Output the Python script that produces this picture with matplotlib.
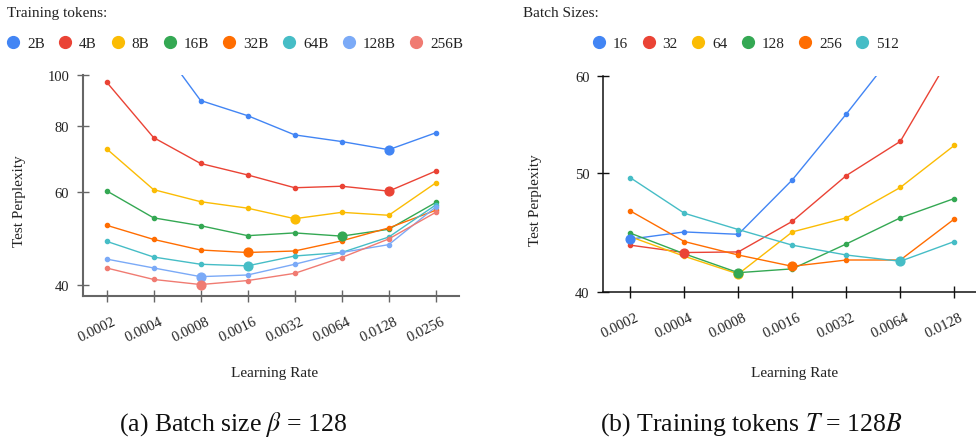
import numpy as np
import matplotlib
matplotlib.use("Agg")
import matplotlib.pyplot as plt
from matplotlib.lines import Line2D
from matplotlib.ticker import NullLocator
from matplotlib.transforms import ScaledTranslation

plt.rcParams['font.family'] = ['Liberation Serif', 'DejaVu Serif']
plt.rcParams['mathtext.fontset'] = 'stix'

# ---------------- data ----------------
lr_left = [0.0002, 0.0004, 0.0008, 0.0016, 0.0032, 0.0064, 0.0128, 0.0256]
lr_left_labels = ["0.0002", "0.0004", "0.0008", "0.0016", "0.0032", "0.0064", "0.0128", "0.0256"]
token_labels = ["2B", "4B", "8B", "16B", "32B", "64B", "128B", "256B"]
ppl_2B = [150.0, 118.0, 89.3, 83.6, 76.9, 74.7, 72.1, 77.6]
ppl_4B = [96.8, 76.0, 67.9, 64.6, 61.1, 61.5, 60.2, 65.7]
ppl_8B = [72.4, 60.6, 57.5, 55.9, 53.4, 54.9, 54.2, 62.4]
ppl_16B = [60.3, 53.6, 51.8, 49.6, 50.2, 49.5, 51.0, 57.3]
ppl_32B = [51.9, 48.8, 46.6, 46.1, 46.4, 48.5, 51.3, 55.4]
ppl_64B = [48.4, 45.2, 43.8, 43.5, 45.4, 46.1, 49.3, 56.7]
ppl_128B = [44.8, 43.1, 41.5, 41.8, 43.8, 46.1, 47.7, 56.2]
ppl_256B = [43.1, 41.0, 40.1, 40.8, 42.1, 45.1, 48.9, 54.9]

lr_right = [0.0002, 0.0004, 0.0008, 0.0016, 0.0032, 0.0064, 0.0128]
lr_right_labels = ["0.0002", "0.0004", "0.0008", "0.0016", "0.0032", "0.0064", "0.0128"]
batch_labels = ["16", "32", "64", "128", "256", "512"]
ppl_bs16 = [44.2, 44.8, 44.6, 49.4, 55.9, 63.6, 75.0]
ppl_bs32 = [43.7, 43.1, 43.15, 45.7, 49.8, 53.1, 63.1]
ppl_bs64 = [44.4, 42.8, 41.4, 44.8, 46.0, 48.7, 52.7]
ppl_bs128 = [44.7, 43.0, 41.5, 41.8, 43.8, 46.0, 47.7]
ppl_bs256 = [46.6, 44.0, 42.9, 42.0, 42.5, 42.5, 45.9]
ppl_bs512 = [49.6, 46.4, 45.0, 43.7, 42.9, 42.4, 44.0]

colors = ["#4285F4", "#EA4335", "#FBBC04", "#34A853", "#FF6D01", "#46BDC6", "#7BAAF7", "#F07B72"]

left_series = [ppl_2B, ppl_4B, ppl_8B, ppl_16B, ppl_32B, ppl_64B, ppl_128B, ppl_256B]
right_series = [ppl_bs16, ppl_bs32, ppl_bs64, ppl_bs128, ppl_bs256, ppl_bs512]

W, H = 976, 439
fig = plt.figure(figsize=(W / 100, H / 100), dpi=100)

def px_axes(x0, x1, ytop, ybot):
    return fig.add_axes([x0 / W, 1 - ybot / H, (x1 - x0) / W, (ybot - ytop) / H])

axL = px_axes(83, 459.3, 75.5, 297.3)
axR = px_axes(603.3, 981.3, 77.3, 293.3)

FS_TICK = 10.5
FS = 11.0

def style(ax, lrs, labels, yticks, spine_color, spine_lw, label_pad, xoff):
    ax.set_xscale('log', base=2)
    ax.set_yscale('log')
    ax.set_xlim(lrs[0] / np.sqrt(2), lrs[-1] * np.sqrt(2))
    ax.set_xticks(lrs, labels=labels)
    ax.set_yticks(yticks, labels=[str(v) for v in yticks])
    ax.xaxis.set_minor_locator(NullLocator())
    ax.yaxis.set_minor_locator(NullLocator())
    for s in ['top', 'right']:
        ax.spines[s].set_visible(False)
    for s in ['left', 'bottom']:
        ax.spines[s].set_color(spine_color)
        ax.spines[s].set_linewidth(spine_lw)
    ax.tick_params(axis='both', direction='inout', length=8, width=1.0,
                   color=spine_color, labelsize=FS_TICK, labelcolor='#222222')
    ax.tick_params(axis='y', pad=6)
    ax.tick_params(axis='x', pad=label_pad)
    ax.patch.set_alpha(0)
    for lab in ax.get_xticklabels():
        lab.set_rotation(26)
        lab.set_ha('center')
        lab.set_va('top')
        lab.set_transform(lab.get_transform() + ScaledTranslation(xoff / 100, 0, fig.dpi_scale_trans))

def draw(ax, lrs, series):
    for vals, c in zip(series, colors):
        ax.plot(lrs, vals, color=c, lw=1.0, marker='o', markersize=3.0, zorder=3)
        i = int(np.argmin(vals))
        ax.plot([lrs[i]], [vals[i]], linestyle='none', marker='o', markersize=6.3,
                color=c, zorder=4)

draw(axL, lr_left, left_series)
axL.set_ylim(38.1, 100)
style(axL, lr_left, lr_left_labels, [40, 60, 80, 100], '#666666', 1.5, 9.4, -10)

draw(axR, lr_right, right_series)
axR.set_ylim(40, 60)
style(axR, lr_right, lr_right_labels, [40, 50, 60], '#111111', 1.1, 9.0, -10)

for ax, ly, yl in [(axL, (0.509, -0.3413), (-0.1687, 0.4355)), (axR, (0.507, -0.369), (-0.180, 0.432))]:
    ax.set_xlabel("Learning Rate", fontsize=FS, color='#222222')
    ax.xaxis.set_label_coords(*ly)
    ax.xaxis.label.set_va('center')
    ax.set_ylabel("Test Perplexity", fontsize=FS, color='#222222')
    ax.yaxis.set_label_coords(*yl)
    ax.yaxis.label.set_va('center')
    ax.yaxis.label.set_ha('center')

# legend titles
fig.text(7 / W, 1 - 13.3 / H, "Training tokens:", fontsize=FS, ha='left', va='center', color='#222222')
fig.text(522.7 / W, 1 - 13.3 / H, "Batch Sizes:", fontsize=FS, ha='left', va='center', color='#222222')

def legend(labels, x_first_center, y):
    handles = [Line2D([], [], linestyle='none', marker='o', markersize=8.5, color=c)
               for c in colors[:len(labels)]]
    hl = 0.8
    x_left = x_first_center - hl * FS * 100 / 72 / 2
    fig.legend(handles, labels, ncol=len(labels), loc='center left',
               bbox_to_anchor=(x_left / W, 1 - y / H), frameon=False,
               handlelength=hl, handletextpad=0.5, columnspacing=0.95,
               borderpad=0, borderaxespad=0, fontsize=FS, labelcolor='#222222')

legend(token_labels, 13.3, 44.0)
legend(batch_labels, 599, 44.0)

fig.text(233 / W, 1 - 425 / H, r"(a) Batch size $\beta$ = 128", fontsize=18.5,
         ha='center', va='center', color='#111111')
fig.text(751 / W, 1 - 425 / H, r"(b) Training tokens $T$ = 128$B$", fontsize=18.5,
         ha='center', va='center', color='#111111')

fig.savefig("out.png", dpi=100)
